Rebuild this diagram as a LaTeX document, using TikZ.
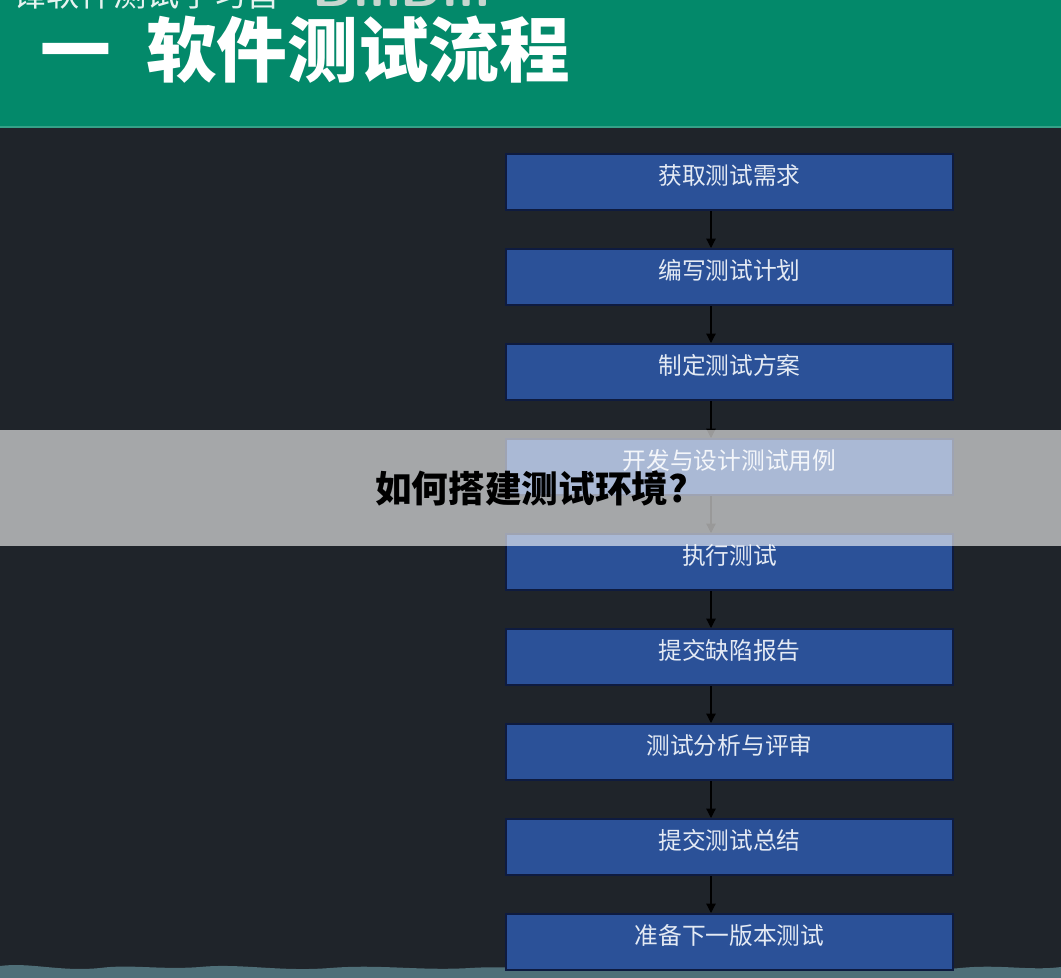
\documentclass[tikz,border=0pt]{standalone}
\usepackage{fontspec}
\newfontfamily\cjk{Noto Sans CJK SC}
\usetikzlibrary{arrows.meta}
\definecolor{bgdark}{HTML}{1F242A}
\definecolor{hdrgreen}{HTML}{03896A}
\definecolor{boxblue}{HTML}{2B5198}
\definecolor{boxedge}{HTML}{0E1B40}
\definecolor{boxtext}{HTML}{E4EAF4}
\definecolor{wavecol}{HTML}{4F6F78}
\definecolor{logogrey}{HTML}{C6D6CF}
\tikzset{
  stepbox/.style={draw=boxedge, line width=1.5pt, fill=boxblue, anchor=north west,
    minimum width=335.25pt, minimum height=42pt, inner sep=0pt,
    text=boxtext, font=\cjk\fontsize{17.8}{18}\selectfont,
    text height=12pt, text depth=9pt},
  arr/.style={draw=black, line width=0.9pt, -{Triangle[length=7pt,width=7pt]}},
}
\begin{document}
\begin{tikzpicture}[x=0.75pt,y=-0.75pt]
\useasboundingbox (0,0) rectangle (1061,978);
\fill[bgdark] (0,0) rectangle (1061,978);
% header
\fill[hdrgreen] (0,0) rectangle (1061,127);
\draw[hdrgreen!80!white, line width=1pt] (0,127) -- (1061,127);
\node[anchor=base west, inner sep=0pt, text=white, opacity=0.9,
  font=\cjk\fontsize{25}{25}\selectfont] (sub) at (-20,7) {千锋软件测试学习营};
\node[anchor=base west, inner sep=0pt, text=logogrey,
  font=\sffamily\bfseries\fontsize{40}{40}\selectfont] (logo) at (312,7) {DmDm};
\node[anchor=west, inner sep=0pt, text=white,
  font=\cjk\bfseries\fontsize{53}{53}\selectfont] (title) at (40,50) {一\hspace{0.5em}软件测试流程};
% bottom wave
\fill[wavecol] (0,978) -- (0,966)
  .. controls (30,962) and (60,972) .. (100,968)
  .. controls (130,964) and (160,970) .. (200,967)
  .. controls (240,963) and (280,972) .. (330,968)
  .. controls (380,964) and (420,971) .. (470,968)
  .. controls (520,965) and (560,972) .. (620,970)
  .. controls (700,968) and (760,973) .. (830,969)
  .. controls (880,965) and (920,972) .. (960,968)
  .. controls (1000,964) and (1030,971) .. (1061,967)
  -- (1061,978) -- cycle;
% boxes
\node[stepbox] (b1) at (505,153) {获取测试需求};
\node[stepbox] (b2) at (505,248) {编写测试计划};
\node[stepbox] (b3) at (505,343) {制定测试方案};
\node[stepbox] (b4) at (505,438) {开发与设计测试用例};
\node[stepbox] (b5) at (505,533) {执行测试};
\node[stepbox] (b6) at (505,628) {提交缺陷报告};
\node[stepbox] (b7) at (505,723) {测试分析与评审};
\node[stepbox] (b8) at (505,818) {提交测试总结};
\node[stepbox] (b9) at (505,913) {准备下一版本测试};
\coordinate (ax) at (711,0);
\foreach \a/\b in {b1/b2,b2/b3,b3/b4,b4/b5,b5/b6,b6/b7,b7/b8,b8/b9}
  \draw[arr] (\a.south -| ax) -- (\b.north -| ax);
% overlay band
\fill[white, opacity=0.6] (0,430) rectangle (1061,546);
\node[anchor=west, inner sep=0pt, text=black,
  font=\cjk\bfseries\fontsize{27.5}{28}\selectfont] (q) at (375,488) {如何搭建测试环境?};
\end{tikzpicture}
\end{document}
